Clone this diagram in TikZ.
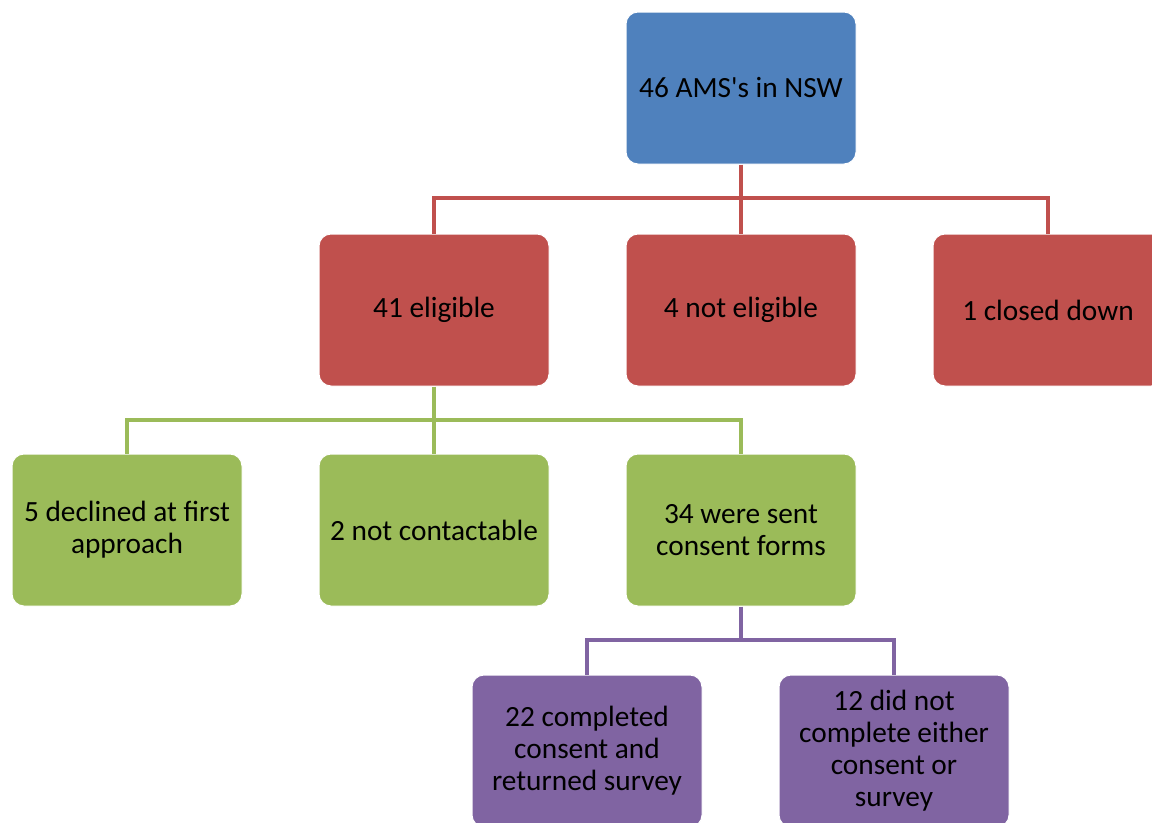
\documentclass[tikz,border=0pt]{standalone}
\usepackage{fontspec}
\setmainfont{Carlito}

\definecolor{amsblue}{RGB}{79,129,189}
\definecolor{amsred}{RGB}{192,80,77}
\definecolor{amsgreen}{RGB}{155,187,89}
\definecolor{amspurple}{RGB}{128,100,162}

\tikzset{every picture/.style={line width=0.75pt}}

\begin{document}
\begin{tikzpicture}[x=0.75pt,y=0.75pt,yscale=-1,xscale=1,
  box/.style={draw=white,line width=0.75pt,rounded corners=9pt,minimum width=172.5pt,minimum height=114pt,align=center,inner sep=0pt,font=\fontsize{22}{24}\selectfont,text=black},
  link/.style={line width=3pt,line join=miter}]
\clip (0,0) rectangle (1152,822);

%Shape: Top box
\node [box,fill=amsblue] (ams) at (741,88) {46 AMS\textquotesingle s in NSW};

%Shape: Second row
\node [box,fill=amsred] (elig) at (434,310) {41 eligible};
\node [box,fill=amsred] (noteli) at (741,310) {4 not eligible};
\node [box,fill=amsred] (closed) at (1048,310) {1 closed down};

%Shape: Third row
\node [box,fill=amsgreen] (declined) at (127,530) {5 declined at first\\approach};
\node [box,fill=amsgreen] (nocontact) at (434,530) {2 not contactable};
\node [box,fill=amsgreen] (sent) at (741,530) {34 were sent\\consent forms};

%Shape: Bottom row
\node [box,fill=amspurple] (done) at (587,751) {22 completed\\consent and\\returned survey};
\node [box,fill=amspurple] (notdone) at (894,751) {12 did not\\complete either\\consent or\\survey};

%Straight Lines: bus points
\coordinate (busa) at (741,198);
\coordinate (busb) at (434,420);
\coordinate (busc) at (741,640);

%Straight Lines: red links
\draw [link,color=amsred] (ams.south) -- (busa);
\draw [link,color=amsred] (elig.north) |- (busa) -| (closed.north);
\draw [link,color=amsred] (busa) -- (noteli.north);
%Straight Lines: green links
\draw [link,color=amsgreen] (elig.south) -- (busb);
\draw [link,color=amsgreen] (declined.north) |- (busb) -| (sent.north);
\draw [link,color=amsgreen] (busb) -- (nocontact.north);
%Straight Lines: purple links
\draw [link,color=amspurple] (sent.south) -- (busc);
\draw [link,color=amspurple] (done.north) |- (busc) -| (notdone.north);

\end{tikzpicture}
\end{document}
